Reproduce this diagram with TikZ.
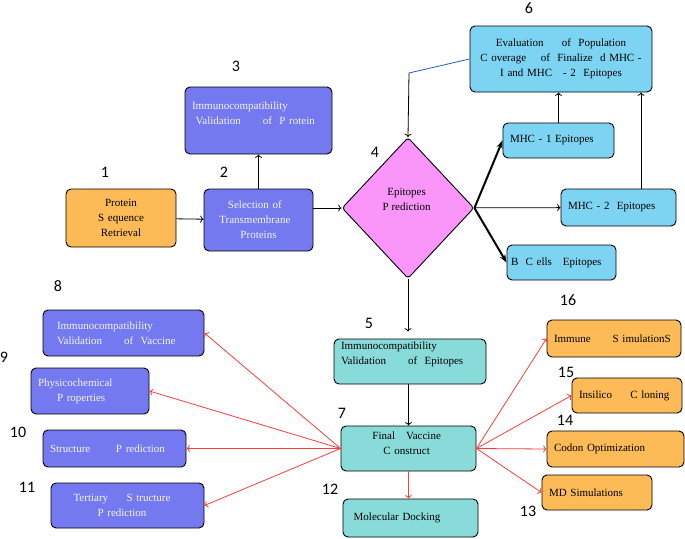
\documentclass[tikz,border=0pt]{standalone}
\usepackage{fontspec}
\setmainfont{Liberation Serif}
\newfontfamily\numfont{Carlito}
\usetikzlibrary{shapes.geometric, arrows.meta}

\definecolor{boxorange}{RGB}{252,187,86}
\definecolor{boxblue}{RGB}{117,121,240}
\definecolor{boxcyan}{RGB}{125,212,242}
\definecolor{boxteal}{RGB}{136,219,217}
\definecolor{boxpink}{RGB}{250,150,250}
\definecolor{linkred}{RGB}{255,60,60}
\definecolor{linkblue}{RGB}{40,90,190}

\begin{document}
\begin{tikzpicture}[x=1pt, y=-1pt,
    box/.style={draw, rounded corners=5pt, line width=0.9pt, inner xsep=7pt, inner ysep=2pt,
      font=\fontsize{11}{15}\selectfont},
    orangebox/.style={box, fill=boxorange},
    bluebox/.style={box, fill=boxblue, text=white!92!boxblue},
    cyanbox/.style={box, fill=boxcyan},
    tealbox/.style={box, fill=boxteal},
    steplbl/.style={font=\numfont\fontsize{16}{16}\selectfont}]
  \useasboundingbox (0,0) rectangle (685,538);

  % upper chain
  \node (b1) [orangebox, align=center, text width=96pt, minimum height=58pt] at (121,218) {Protein\\S equence\\Retrieval};
  \node (b2) [bluebox, align=center, text width=95pt, minimum height=62pt] at (258.5,220) {Selection of~~~\\Transmembrane~~~\\Proteins};
  \node (b3) [bluebox, align=left, text width=133pt, minimum height=67pt] at (258.5,120.5) {Immunocompatibility\\~Validation~~~~~~of~~P rotein\\[-4pt]\strut};
  \node (d4) [diamond, draw, fill=boxpink, line width=0.9pt, rounded corners=3pt, inner sep=0pt,
    minimum width=132pt, minimum height=141pt, align=center,
    font=\fontsize{11}{15}\selectfont] at (408,208) {Epitopes~~\\P rediction~~\\[-2pt]\strut};

  % epitope boxes
  \node (b6) [cyanbox, align=center, inner xsep=3pt, text width=176pt, minimum height=66pt] at (561,59) {Evaluation~~~~~of~~Population\\C overage~~~~of~~Finalize~~d MHC -\\I and MHC~~~- 2~~Epitopes};
  \node (mhc1) [cyanbox, align=left, text width=97pt, minimum height=35pt] at (558.5,140.5) {MHC - 1 Epitopes};
  \node (mhc2) [cyanbox, align=left, text width=101pt, minimum height=37pt] at (618.5,207.5) {MHC - 2~~Epitopes};
  \node (bc) [cyanbox, align=left, inner xsep=4pt, text width=101pt, minimum height=35pt] at (561.5,262.5) {B~~C ells~~~Epitopes};

  % vaccine chain
  \node (b5) [tealbox, align=left, text width=138pt, minimum height=45pt] at (410,361.5) {Immunocompatibility\\Validation~~~~~~of~~Epitopes\\[-3pt]\strut};
  \node (b7) [tealbox, align=center, text width=121pt, minimum height=45pt] at (408.5,448.5) {Final~~~Vaccine~~\\C onstruct~~\\[-8pt]\strut};
  \node (b12) [tealbox, align=left, text width=121pt, minimum height=38pt] at (410.5,518) {~Molecular Docking};

  % right side
  \node (b16) [orangebox, align=left, text width=120pt, minimum height=37pt] at (614,338.5) {Immune~~~~~~S imulationS};
  \node (b15) [orangebox, align=left, text width=96pt, minimum height=35pt] at (627,395.5) {Insilico~~~~~C loning};
  \node (b14) [orangebox, align=left, text width=123pt, minimum height=36pt] at (615.5,449) {Codon Optimization};
  \node (b13) [orangebox, align=left, text width=96pt, minimum height=35pt] at (597,492.5) {MD Simulations};

  % left side
  \node (b8) [bluebox, align=left, text width=147pt, minimum height=46pt] at (123.5,333) {\hspace{7pt}Immunocompatibility\\\hspace{7pt}Validation~~~~~~of~~Vaccine};
  \node (b9) [bluebox, align=left, text width=104pt, minimum height=46pt] at (90,391) {Physicochemical\\\hspace{19pt}P roperties};
  \node (b10) [bluebox, align=left, text width=129pt, minimum height=37pt] at (114.5,448.5) {Structure~~~~~~~P rediction};
  \node (b11) [bluebox, align=center, text width=139pt, minimum height=45pt] at (127.5,505.5) {Tertiary~~~~~S tructure~~~~\\P rediction~~~~};

  % step numbers
  \node (n1) [steplbl] at (105,172) {1};
  \node (n2) [steplbl] at (224,172) {2};
  \node (n3) [steplbl] at (236,66) {3};
  \node (n4) [steplbl] at (375,152) {4};
  \node (n5) [steplbl] at (369,323) {5};
  \node (n6) [steplbl] at (529,8) {6};
  \node (n7) [steplbl] at (342,413) {7};
  \node (n8) [steplbl] at (58,286) {8};
  \node (n9) [steplbl] at (4,357) {9};
  \node (n10) [steplbl] at (18,432) {10};
  \node (n11) [steplbl] at (27,487) {11};
  \node (n12) [steplbl] at (330,489) {12};
  \node (n13) [steplbl] at (528,511) {13};
  \node (n14) [steplbl] at (565,420) {14};
  \node (n15) [steplbl] at (566,372) {15};
  \node (n16) [steplbl] at (568,300) {16};

  \coordinate (fb) at (409,73);

  \path [->, line width=0.8pt]
    (b1) edge (b2)
    (b2) edge (b3)
    (b2.east |- d4) edge (d4.west)
    (fb) edge (d4.north)
    (d4) edge (mhc2)
    (mhc1.north) edge (mhc1.north |- b6.south)
    ([xshift=22.5pt]mhc2.north) edge ([xshift=22.5pt]mhc2.north |- b6.south)
    (d4.south) edge ([yshift=7pt]d4.south |- b5.north)
    (b5.south -| b7.north) edge (b7.north);
  \draw [linkblue, line width=0.8pt] (b6.west) -- (fb);

  \path [-{Stealth[length=8pt, width=6pt]}, line width=2pt]
    (d4.east) edge (mhc1.west)
    (d4.east) edge (bc.west);

  \path [->, linkred, line width=0.8pt]
    (b7.south) edge (b7.south |- b12.north)
    (b7.east) edge (b16.west)
    (b7.east) edge (b15.west)
    (b7.east) edge (b14.west)
    (b7.east) edge (b13.west)
    (b7.west) edge (b8.east)
    (b7.west) edge (b9.east)
    (b7.west) edge (b10.east)
    (b7.west) edge (b11.east);
\end{tikzpicture}
\end{document}
